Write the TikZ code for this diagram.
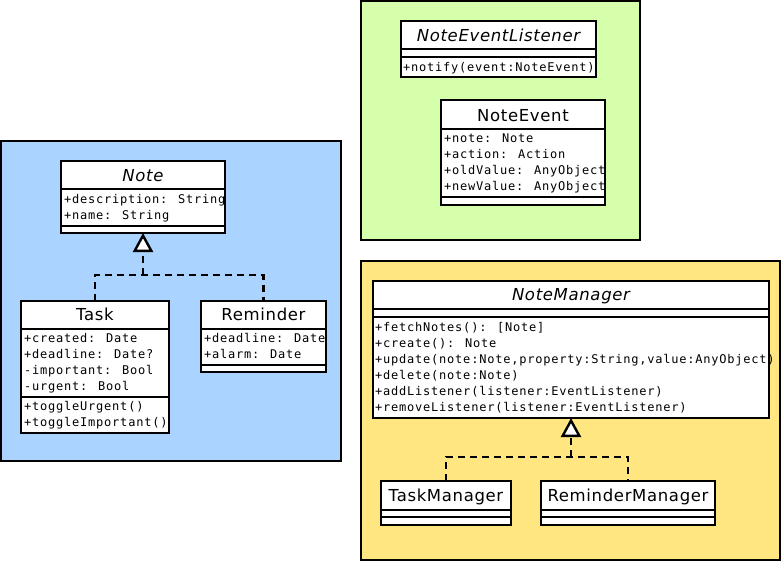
\documentclass[tikz,border=0pt]{standalone}
\usepackage{fontspec}
\usetikzlibrary{arrows.meta}
\newfontfamily\monof[LetterSpace=6.5]{DejaVu Sans Mono}
\newfontfamily\titlef[LetterSpace=4]{DejaVu Sans}
\definecolor{blueBG}{RGB}{170,212,255}
\definecolor{greenBG}{RGB}{213,255,170}
\definecolor{yellowBG}{RGB}{255,230,128}
\tikzset{
  region/.style={draw=black, line width=2.4pt},
  cls/.style={draw, fill=white, line width=2.4pt, inner sep=0pt, outer sep=0pt, anchor=north west},
  sepline/.style={line width=2.4pt},
  attr/.style={anchor=base west, inner sep=0pt, font={\monof\fontsize{12}{14}\selectfont}},
  ttl/.style={anchor=base, inner sep=0pt, font={\titlef\fontsize{16.5}{19}\selectfont}},
  ttli/.style={anchor=base, inner sep=0pt, font={\titlef\itshape\fontsize{16.5}{19}\selectfont}},
  realize/.style={line width=2.4pt, dash pattern=on 7pt off 5pt},
  realtip/.style={-{Triangle[length=19pt,width=20pt,fill=white]}}
}
\begin{document}
\begin{tikzpicture}[x=1pt,y=-1pt]
\useasboundingbox (0,0) rectangle (782,562);
% regions
\draw[region, fill=blueBG] (1,141) rectangle (341,461);
\draw[region, fill=greenBG] (361,1) rectangle (640,240);
\draw[region, fill=yellowBG] (361,261) rectangle (780,560);

% Note
\node[cls, minimum width=164pt, minimum height=72pt] (note) at (61,161) {};
\draw[sepline] (61,189) -- (225,189);
\draw[sepline] (61,226) -- (225,226);
\node[ttli] (noteT) at (143,181) {Note};
\node[attr] (noteA1) at (64,203) {+description: String};
\node[attr] (noteA2) at (64,219) {+name: String};

% Task
\node[cls, minimum width=148pt, minimum height=132pt] (task) at (21,301) {};
\draw[sepline] (21,329) -- (169,329);
\draw[sepline] (21,397) -- (169,397);
\node[ttl] (taskT) at (95,320) {Task};
\node[attr] (taskA1) at (24,342) {+created: Date};
\node[attr] (taskA2) at (24,358) {+deadline: Date?};
\node[attr] (taskA3) at (24,374) {-important: Bool};
\node[attr] (taskA4) at (24,390) {-urgent: Bool};
\node[attr] (taskM1) at (24,410) {+toggleUrgent()};
\node[attr] (taskM2) at (24,426) {+toggleImportant()};

% Reminder
\node[cls, minimum width=125pt, minimum height=71pt] (reminder) at (201,301) {};
\draw[sepline] (201,329) -- (326,329);
\draw[sepline] (201,365) -- (326,365);
\node[ttl] (remT) at (263.5,320) {Reminder};
\node[attr] (remA1) at (204,342) {+deadline: Date};
\node[attr] (remA2) at (204,358) {+alarm: Date};

% NoteEventListener
\node[cls, minimum width=195pt, minimum height=56pt] (nel) at (401,21) {};
\draw[sepline] (401,49) -- (596,49);
\draw[sepline] (401,57) -- (596,57);
\node[ttli] (nelT) at (498.5,41) {NoteEventListener};
\node[attr] (nelM1) at (403,71) {+notify(event:NoteEvent)};

% NoteEvent
\node[cls, minimum width=164pt, minimum height=105pt] (ne) at (441,100) {};
\draw[sepline] (441,129) -- (605,129);
\draw[sepline] (441,197) -- (605,197);
\node[ttl] (neT) at (523,121) {NoteEvent};
\node[attr] (neA1) at (444,142) {+note: Note};
\node[attr] (neA2) at (444,158) {+action: Action};
\node[attr] (neA3) at (444,174) {+oldValue: AnyObject};
\node[attr] (neA4) at (444,190) {+newValue: AnyObject};

% NoteManager
\node[cls, minimum width=396pt, minimum height=137pt] (nm) at (373,281) {};
\draw[sepline] (373,309) -- (769,309);
\draw[sepline] (373,317) -- (769,317);
\node[ttli] (nmT) at (571,300) {NoteManager};
\node[attr] (nmM1) at (375,331) {+fetchNotes(): [Note]};
\node[attr] (nmM2) at (375,347) {+create(): Note};
\node[attr] (nmM3) at (375,363) {+update(note:Note,property:String,value:AnyObject)};
\node[attr] (nmM4) at (375,379) {+delete(note:Note)};
\node[attr] (nmM5) at (375,395) {+addListener(listener:EventListener)};
\node[attr] (nmM6) at (375,411) {+removeListener(listener:EventListener)};

% TaskManager
\node[cls, minimum width=130pt, minimum height=44pt] (tm) at (381,481) {};
\draw[sepline] (381,510) -- (511,510);
\draw[sepline] (381,517) -- (511,517);
\node[ttl] (tmT) at (446,501) {TaskManager};

% ReminderManager
\node[cls, minimum width=174pt, minimum height=44pt] (rm) at (541,481) {};
\draw[sepline] (541,510) -- (715,510);
\draw[sepline] (541,517) -- (715,517);
\node[ttl] (rmT) at (628,501) {ReminderManager};

% connectors
\coordinate (j1) at (143,275);
\draw[realize] (task.north) |- (j1) -| (reminder.north);
\draw[realize, realtip] (j1) -- (note.south);
\coordinate (j2) at (571,457);
\draw[realize] (tm.north) |- (j2) -| (rm.north);
\draw[realize, realtip] (j2) -- (nm.south);
\end{tikzpicture}
\end{document}
